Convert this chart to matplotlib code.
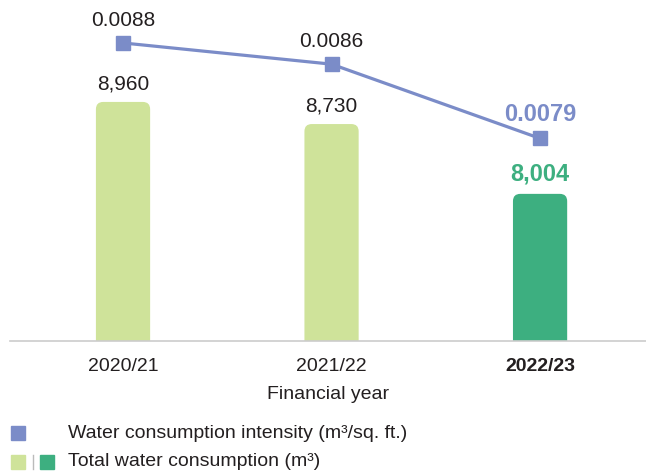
import matplotlib.pyplot as plt
from matplotlib.patches import FancyBboxPatch
from matplotlib.lines import Line2D

years = ['2020/21', '2021/22', '2022/23']
total_water = [8960, 8730, 8004]
intensity = [0.0088, 0.0086, 0.0079]

light_green = '#cfe39a'
dark_green = '#3daf80'
blue = '#7b8cc8'
txt = '#231f20'

plt.rcParams['font.family'] = ['Liberation Sans', 'DejaVu Sans']

fig = plt.figure(figsize=(6.46, 4.71), dpi=100)
# axes: x from 10px to 646px, y from 341px (bottom) to 0px (top)
ax = fig.add_axes([10 / 646, 1 - 341 / 471, 636 / 646, 341 / 471])
ax2 = ax.twinx()

ax.set_xlim(-0.542, 2.508)
ax.set_ylim(6474, 10020)
ax2.set_ylim(0.00599, 0.009205)

bar_w = 0.26
# px per unit: x 208.5 px/unit, y 1/10.4 px/unit
aspect = 10.4 * 208.5
colors = [light_green, light_green, dark_green]
for i, v in enumerate(total_water):
    p = FancyBboxPatch((i - bar_w / 2, 6000), bar_w, v - 6000,
                       boxstyle='round,pad=0,rounding_size=0.035',
                       mutation_aspect=aspect, fc=colors[i], ec='none',
                       clip_on=True)
    ax.add_patch(p)
    if i == 2:
        ax.text(i, v + 90, f'{v:,}', ha='center', va='bottom', fontsize=17,
                color=dark_green, fontweight='bold')
    else:
        ax.text(i, v + 90, f'{v:,}', ha='center', va='bottom', fontsize=15,
                color=txt)

ax2.plot(range(3), intensity, color=blue, lw=2.3, marker='s', ms=9.5,
         mfc=blue, mec=blue, zorder=5)
for i, v in enumerate(intensity):
    if i == 2:
        ax2.text(i, v + 0.00012, f'{v:.4f}', ha='center', va='bottom',
                 fontsize=17, color=blue, fontweight='bold')
    else:
        ax2.text(i, v + 0.00012, f'{v:.4f}', ha='center', va='bottom',
                 fontsize=15, color=txt)

for a in (ax, ax2):
    for s in ['top', 'right', 'left']:
        a.spines[s].set_visible(False)
    a.set_yticks([])
ax2.spines['bottom'].set_visible(False)
ax.spines['bottom'].set_color('#cccccc')
ax.spines['bottom'].set_linewidth(1.2)

ax.set_xticks(range(3))
ax.set_xticklabels(years, fontsize=14, color=txt)
ax.get_xticklabels()[2].set_fontweight('bold')
ax.tick_params(axis='x', length=0, pad=12)
ax.set_xlabel('Financial year', fontsize=14, color=txt, labelpad=8)

# legend
fig.add_artist(Line2D([18 / 646], [1 - 433 / 471], marker='s', ms=9.5,
                      color=blue, transform=fig.transFigure))
fig.text(68 / 646, 1 - 433 / 471, 'Water consumption intensity (m³/sq. ft.)',
         fontsize=14, color=txt, va='center')
fig.add_artist(Line2D([18 / 646], [1 - 462 / 471], marker='s', ms=9.5,
                      color=light_green, transform=fig.transFigure))
fig.add_artist(Line2D([33 / 646, 33 / 646], [1 - 469 / 471, 1 - 455 / 471],
                      color='#bbbbbb', lw=1, transform=fig.transFigure))
fig.add_artist(Line2D([47 / 646], [1 - 462 / 471], marker='s', ms=9.5,
                      color=dark_green, transform=fig.transFigure))
fig.text(68 / 646, 1 - 462 / 471, 'Total water consumption (m³)',
         fontsize=14, color=txt, va='center')

fig.savefig('out.png', dpi=100)
